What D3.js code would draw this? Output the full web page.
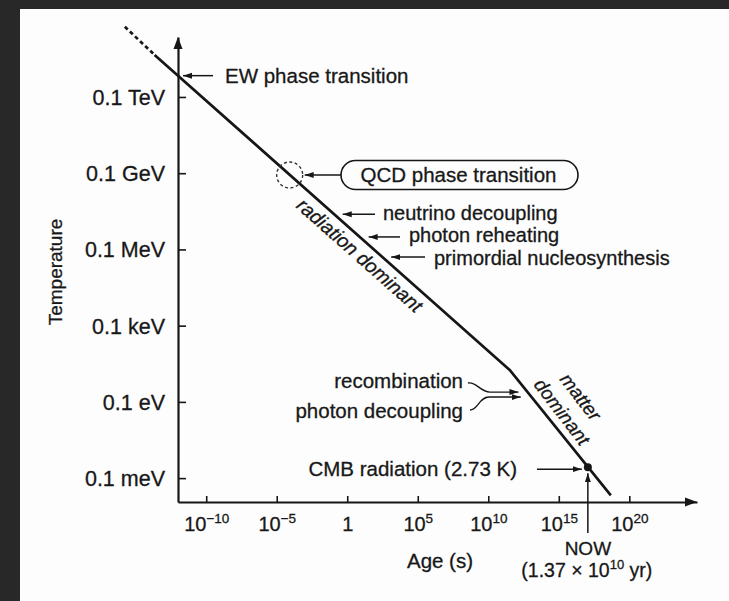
<!DOCTYPE html>
<html><head><meta charset="utf-8">
<script src="https://cdn.jsdelivr.net/npm/d3@7"></script>
<style>
html,body{margin:0;padding:0;background:#282828;}
svg{display:block;}
text{font-family:"Liberation Sans",Arial,Helvetica,sans-serif;fill:#181818;stroke:#181818;stroke-width:0.3px;}
</style></head><body>
<svg id="chart" width="729" height="601"></svg>
<script>
// ---------- data ----------
const yTickValues = [1e-4, 1e-1, 1e2, 1e5, 1e8, 1e11];           // temperature in eV
const yTickLabels = ["0.1 meV", "0.1 eV", "0.1 keV", "0.1 MeV", "0.1 GeV", "0.1 TeV"];
const xTickValues = [1e-10, 1e-5, 1, 1e5, 1e10, 1e15, 1e20];       // age in s
const xTickBase = ["10", "10", "1", "10", "10", "10", "10"];
const xTickExp = ["\u221210", "\u22125", "", "5", "10", "15", "20"];
const dashedAge = [1.7e-16, 2.2e-14];
const dashedTemp = [5.8e13, 4.5e12];
const curveAge = [2.2e-14, 3.3e11, 4.9e18];
const curveTemp = [4.5e12, 1.8, 2.1e-5];
const eventNames = ["EW phase transition", "QCD phase transition", "neutrino decoupling",
  "photon reheating", "primordial nucleosynthesis", "recombination", "photon decoupling",
  "CMB radiation (2.73 K)"];
const eventAge = [1e-12, 8.3e-5, 0.11, 7.6, 300, 6e12, 1.2e13, 1.15e17];
const eventTemp = [6.9e11, 8.5e7, 2.45e6, 3.1e5, 5e4, 0.243, 0.155, 2.7e-4];
const nowAge = 1.15e17, nowTemp = 2.7e-4;
const eraLabels = ["radiation dominant", "matter", "dominant"];
const eraAge = [34, 2.0e14, 2.0e14];
const xTitle = "Age (s)", yTitle = "Temperature";
const nowLabel = "NOW";

// ---------- drawing ----------
const svg = d3.select("#chart");
svg.append("rect").attr("x", 20).attr("y", 9).attr("width", 709).attr("height", 592).attr("fill", "#fdfdfd");

const x = d3.scaleLog().domain([1e-12, Math.pow(10, 24.8)]).range([178, 697]);
const y = d3.scaleLog().domain([Math.pow(10, -4.94), Math.pow(10, 13.36)]).range([502, 37]);
const ink = "#161616";
const fs = 20.5;

const defs = svg.append("defs");
defs.append("marker").attr("id", "ah").attr("markerUnits", "userSpaceOnUse")
  .attr("markerWidth", 10).attr("markerHeight", 7).attr("refX", 9).attr("refY", 3.5)
  .attr("orient", "auto")
  .append("path").attr("d", "M0,0.5 L9,3.5 L0,6.5 Z").attr("fill", ink);

// axes
const yAxis = svg.append("g").attr("transform", "translate(178,0)")
  .call(d3.axisLeft(y).tickValues(yTickValues).tickSize(-8).tickSizeOuter(0).tickPadding(13)
    .tickFormat((d, i) => yTickLabels[i]));
const xAxis = svg.append("g").attr("transform", "translate(0,502)")
  .call(d3.axisBottom(x).tickValues(xTickValues).tickSize(-6).tickSizeOuter(0)
    .tickFormat(() => ""));
[yAxis, xAxis].forEach(g => {
  g.select(".domain").attr("stroke", ink).attr("stroke-width", 2.2);
  g.selectAll(".tick line").attr("stroke", ink).attr("stroke-width", 1.6);
});
yAxis.selectAll(".tick text").attr("font-size", 21.5).attr("fill", ink)
  .attr("font-family", "Liberation Sans, Arial, sans-serif").attr("dy", "0.35em");
xAxis.selectAll(".tick text").each(function (d, i) {
  const t = d3.select(this).attr("y", 29).attr("dy", null).attr("font-size", 20)
    .attr("fill", ink).attr("font-family", "Liberation Sans, Arial, sans-serif");
  t.text(null);
  t.append("tspan").text(xTickBase[i]);
  if (xTickExp[i]) t.append("tspan").attr("font-size", 13.5).attr("dy", -8).text(xTickExp[i]);
});
// axis arrowheads
const yTop = y.range()[1];
const xEnd = x.range()[1];
svg.append("path").attr("d", `M178,${yTop} L173.5,${yTop + 12} L182.5,${yTop + 12} Z`).attr("fill", ink);
svg.append("path").attr("d", `M${xEnd},502 L${xEnd - 12},497.5 L${xEnd - 12},506.5 Z`).attr("fill", ink);

// axis titles
svg.append("text").attr("transform", "translate(61.5,272) rotate(-90)").attr("text-anchor", "middle")
  .attr("font-size", 19).text(yTitle);
svg.append("text").attr("x", 440).attr("y", 568).attr("text-anchor", "middle")
  .attr("font-size", fs).text(xTitle);

// curve
const line = d3.line().x(d => x(d[0])).y(d => y(d[1]));
svg.append("path").datum(dashedAge.map((a, i) => [a, dashedTemp[i]])).attr("d", line)
  .attr("fill", "none").attr("stroke", ink).attr("stroke-width", 2.7).attr("stroke-dasharray", "4,3");
svg.append("path").datum(curveAge.map((a, i) => [a, curveTemp[i]])).attr("d", line)
  .attr("fill", "none").attr("stroke", ink).attr("stroke-width", 2.7);

// point on curve helper (log-log interpolation)
function onCurve(age) {
  const la = Math.log10(age);
  for (let i = 0; i < curveAge.length - 1; i++) {
    const a0 = Math.log10(curveAge[i]), a1 = Math.log10(curveAge[i + 1]);
    if (la <= a1 || i === curveAge.length - 2) {
      const f = (la - a0) / (a1 - a0);
      const lt = Math.log10(curveTemp[i]) + f * (Math.log10(curveTemp[i + 1]) - Math.log10(curveTemp[i]));
      return [x(age), y(Math.pow(10, lt))];
    }
  }
}
function segAngle(i) {
  const dx = x(curveAge[i + 1]) - x(curveAge[i]), dy = y(curveTemp[i + 1]) - y(curveTemp[i]);
  return Math.atan2(dy, dx);
}

// era labels (italic, along the curve)
{
  const a = segAngle(0);
  const [px, py] = onCurve(eraAge[0]);
  const n = [-Math.sin(a), Math.cos(a)]; // lower-left side
  const d = 20.5;
  svg.append("text").attr("transform",
    `translate(${px + n[0] * d},${py + n[1] * d}) rotate(${a * 180 / Math.PI})`)
    .attr("text-anchor", "middle").attr("font-size", 19.5).attr("font-style", "italic").text(eraLabels[0]);
}
{
  const a = segAngle(1);
  const [px, py] = onCurve(eraAge[1]);
  const n = [Math.sin(a), -Math.cos(a)]; // upper-right side
  [[eraLabels[1], 31.5], [eraLabels[2], 7.5]].forEach(([s, d]) => {
    svg.append("text").attr("transform",
      `translate(${px + n[0] * d + 2},${py + n[1] * d + 2}) rotate(${a * 180 / Math.PI + 1.5})`)
      .attr("text-anchor", "middle").attr("font-size", 19).attr("font-style", "italic").text(s);
  });
}

const ev = i => [x(eventAge[i]), y(eventTemp[i])];
function arrow(x1, y1, x2, y2) {
  svg.append("line").attr("x1", x1).attr("y1", y1).attr("x2", x2).attr("y2", y2)
    .attr("stroke", ink).attr("stroke-width", 1.5).attr("marker-end", "url(#ah)");
}
function label(s, tx, ty, anchor, size) {
  svg.append("text").attr("x", tx).attr("y", ty).attr("text-anchor", anchor || "start")
    .attr("font-size", size || fs).text(s);
}

// EW
{ const [ex, ey] = ev(0); arrow(213, ey, ex + 5, ey); label(eventNames[0], 225, ey + 7); }
// QCD
{
  const [ex, ey] = ev(1);
  svg.append("ellipse").attr("cx", ex).attr("cy", ey).attr("rx", 13).attr("ry", 13)
    .attr("fill", "none").attr("stroke", "#333").attr("stroke-width", 1.4).attr("stroke-dasharray", "3,2.5");
  const bx = 341, bw = 237, bh = 29;
  svg.append("rect").attr("x", bx).attr("y", ey - bh / 2).attr("width", bw).attr("height", bh)
    .attr("rx", 14.5).attr("ry", 14.5).attr("fill", "none").attr("stroke", ink).attr("stroke-width", 1.6);
  arrow(bx, ey, ex + 15, ey);
  label(eventNames[1], bx + bw / 2 - 1, ey + 7, "middle");
}
// neutrino decoupling, photon reheating, nucleosynthesis
[[2, 375, 383, 219.5], [3, 400, 409, 242], [4, 425, 434, 264.5]].forEach(([i, tail, tx, by]) => {
  const [ex, ey] = ev(i);
  arrow(tail, ey, ex + 9, ey);
  label(eventNames[i], tx, by, "start", 20);
});
// recombination / photon decoupling
{
  const [rx, ry] = ev(5), [dx, dy] = ev(6);
  label(eventNames[5], 463, 388, "end");
  label(eventNames[6], 463, 418, "end");
  svg.append("path").attr("d", `M468,383 C476,381 480,${ry} 490,${ry} L${rx - 9},${ry}`)
    .attr("fill", "none").attr("stroke", ink).attr("stroke-width", 1.4).attr("marker-end", "url(#ah)");
  svg.append("path").attr("d", `M470,410 C478,410 479,${dy} 489,${dy} L${dx - 11},${dy}`)
    .attr("fill", "none").attr("stroke", ink).attr("stroke-width", 1.4).attr("marker-end", "url(#ah)");
}
// CMB & NOW
{
  const nx = x(nowAge), ny = y(nowTemp);
  label(eventNames[7], 517, ny + 9, "end");
  arrow(537, ny + 2, nx - 6, ny + 2);
  svg.append("circle").attr("cx", nx).attr("cy", ny).attr("r", 4).attr("fill", ink);
  arrow(nx, 533, nx, ny + 6);
  label(nowLabel, nx, 554.5, "middle", 19);
  const t = svg.append("text").attr("x", nx - 1).attr("y", 577).attr("text-anchor", "middle").attr("font-size", 19.5);
  t.append("tspan").text("(1.37 \u00d7 10");
  t.append("tspan").attr("font-size", 13).attr("dy", -8).text("10");
  t.append("tspan").attr("dy", 8).text(" yr)");
}
</script>
</body></html>
